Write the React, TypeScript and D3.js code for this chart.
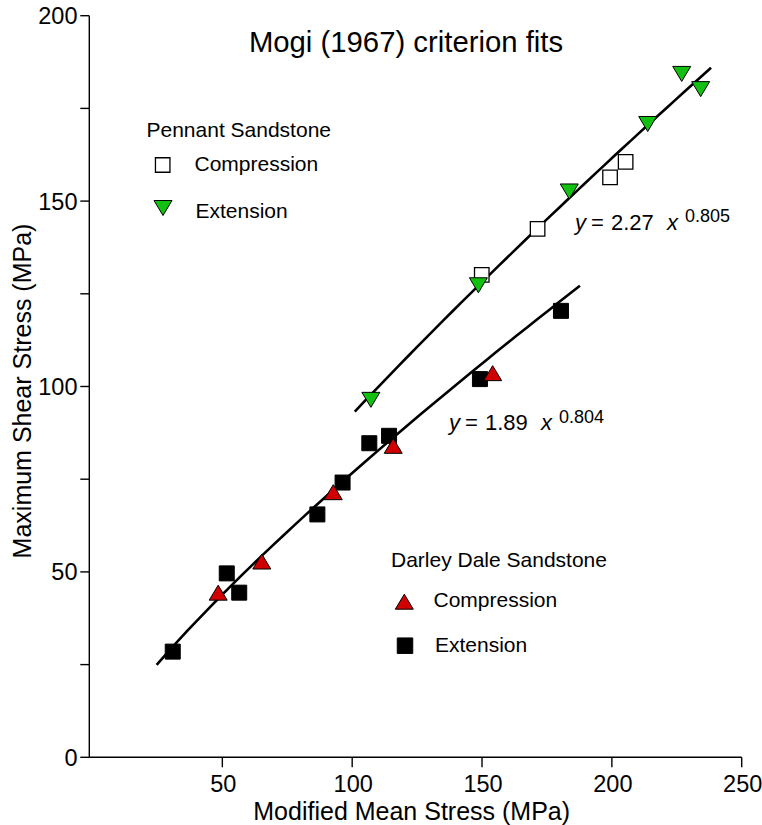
import React from "react";
import * as d3 from "d3";

// ---- Data ----
const pennantCompX = [149.9, 171.4, 199.3, 205.3];
const pennantCompY = [130.1, 142.5, 156.4, 160.6];
const pennantExtX = [107.2, 148.6, 183.6, 213.8, 226.9, 234.2];
const pennantExtY = [96.4, 127.3, 152.6, 170.8, 184.3, 180.2];
const darleyCompX = [48.4, 65.2, 92.7, 115.8, 154.1];
const darleyCompY = [44.4, 52.8, 71.5, 84.0, 103.6];
const darleyExtX = [30.9, 51.7, 56.5, 86.6, 96.3, 106.6, 114.2, 149.2, 180.4];
const darleyExtY = [28.5, 49.6, 44.4, 65.5, 74.1, 84.7, 86.7, 102.0, 120.4];

// power-law fits y = a * x^b drawn over [x0, x1]
const fitNames = ["Pennant", "Darley Dale"];
const fitA = [2.27, 1.89];
const fitB = [0.805, 0.804];
const fitX0 = [101, 24.7];
const fitX1 = [238.2, 187.7];
const fitLabelCoef = ["2.27", "1.89"];
const fitLabelExp = ["0.805", "0.804"];

const xTicks = [50, 100, 150, 200, 250];
const yTicks = [0, 50, 100, 150, 200];
const yMinorTicks = [25, 75, 125, 175];

const FONT = "'Liberation Sans', Arial, Helvetica, sans-serif";

export default function App() {
  const W = 762;
  const H = 825;
  const x = d3.scaleLinear().domain([0, 250]).range([92.5, 741.7]);
  const y = d3.scaleLinear().domain([0, 200]).range([757.3, 15.7]);
  const axisX = 89.3;
  const axisY = y(0);

  const sq = (cx: number, cy: number, s: number) =>
    `M${cx - s / 2},${cy - s / 2}h${s}v${s}h${-s}Z`;
  const triUp = (cx: number, cy: number, w = 18, h = 15) =>
    `M${cx},${cy - h / 2}L${cx + w / 2},${cy + h / 2}L${cx - w / 2},${cy + h / 2}Z`;
  const triDown = (cx: number, cy: number, w = 18, h = 15) =>
    `M${cx - w / 2},${cy - h / 2}L${cx + w / 2},${cy - h / 2}L${cx},${cy + h / 2}Z`;

  const line = d3
    .line<[number, number]>()
    .x((d) => x(d[0]))
    .y((d) => y(d[1]));

  const fitPaths = fitNames.map((_, i) => {
    const pts: [number, number][] = d3
      .range(0, 41)
      .map((k) => fitX0[i] + ((fitX1[i] - fitX0[i]) * k) / 40)
      .map((xv) => [xv, fitA[i] * Math.pow(xv, fitB[i])]);
    return line(pts) as string;
  });

  const green = "#12c012";
  const red = "#d00000";

  const eqPos = [
    { x: 575, y: 229.5 },
    { x: 449, y: 430 },
  ];

  return (
    <div style={{ position: "absolute", left: 0, top: 0 }}>
      <svg width={W} height={H} style={{ display: "block", background: "#fff" }} fontFamily={FONT}>
        <rect width={W} height={H} fill="#fff" />
        {/* axes */}
        <line x1={axisX} x2={x(250)} y1={axisY} y2={axisY} stroke="#000" strokeWidth={1.4} />
        <line x1={axisX} x2={axisX} y1={y(200)} y2={axisY} stroke="#000" strokeWidth={1.4} />
        {xTicks.map((t) => (
          <g key={"xt" + t}>
            <line x1={x(t)} x2={x(t)} y1={axisY} y2={axisY + 10} stroke="#000" strokeWidth={1.4} />
            <text x={x(t) + 1} y={791.5} fontSize={23.5} textAnchor="middle" fill="#000">
              {t}
            </text>
          </g>
        ))}
        {yTicks.map((t) => (
          <g key={"yt" + t}>
            <line x1={axisX - 9} x2={axisX} y1={y(t)} y2={y(t)} stroke="#000" strokeWidth={1.4} />
            <text x={77.5} y={y(t) + 8.5} fontSize={23.5} textAnchor="end" fill="#000">
              {t}
            </text>
          </g>
        ))}
        {yMinorTicks.map((t) => (
          <line key={"ym" + t} x1={axisX - 9} x2={axisX} y1={y(t)} y2={y(t)} stroke="#000" strokeWidth={1.4} />
        ))}
        <text x={411.7} y={820} fontSize={25} textAnchor="middle" fill="#000">
          Modified Mean Stress (MPa)
        </text>
        <text
          transform={`translate(31,391) rotate(-90)`}
          fontSize={25}
          textAnchor="middle"
          fill="#000"
        >
          Maximum Shear Stress (MPa)
        </text>
        <text x={406} y={51.5} fontSize={29.3} textAnchor="middle" fill="#000">
          Mogi (1967) criterion fits
        </text>

        {/* fit lines */}
        {fitPaths.map((d, i) => (
          <path key={"fit" + i} d={d} fill="none" stroke="#000" strokeWidth={2.6} />
        ))}

        {/* equations */}
        {eqPos.map((p, i) => (
          <text key={"eq" + i} y={p.y} fontSize={22} fill="#000">
            <tspan x={p.x} fontStyle="italic">y</tspan>
            <tspan x={p.x + 16}>=</tspan>
            <tspan x={p.x + 36}>{fitLabelCoef[i]}</tspan>
            <tspan x={p.x + 92} fontStyle="italic">x</tspan>
            <tspan x={p.x + 110} dy={-7.5} fontSize={18}>
              {fitLabelExp[i]}
            </tspan>
          </text>
        ))}

        {/* Darley Dale points */}
        {darleyExtX.map((xv, i) => (
          <path key={"de" + i} d={sq(x(xv), y(darleyExtY[i]), 15)} fill="#000" stroke="#000" strokeWidth={1} />
        ))}
        {darleyCompX.map((xv, i) => (
          <path key={"dc" + i} d={triUp(x(xv), y(darleyCompY[i]))} fill={red} stroke="#000" strokeWidth={1} />
        ))}

        {/* Pennant points */}
        {pennantCompX.map((xv, i) => (
          <path key={"pc" + i} d={sq(x(xv), y(pennantCompY[i]), 14.5)} fill="#fff" stroke="#000" strokeWidth={1.3} />
        ))}
        {pennantExtX.map((xv, i) => (
          <path key={"pe" + i} d={triDown(x(xv), y(pennantExtY[i]))} fill={green} stroke="#000" strokeWidth={1} />
        ))}

        {/* Pennant legend */}
        <text x={146.5} y={136.7} fontSize={21} fill="#000">
          Pennant Sandstone
        </text>
        <path d={sq(162.7, 165, 14.5)} fill="#fff" stroke="#000" strokeWidth={1.3} />
        <text x={194.5} y={170.7} fontSize={21} fill="#000">
          Compression
        </text>
        <path d={triDown(163, 208)} fill={green} stroke="#000" strokeWidth={1} />
        <text x={195.5} y={218.3} fontSize={21} fill="#000">
          Extension
        </text>

        {/* Darley Dale legend */}
        <text x={391} y={566.7} fontSize={21} fill="#000">
          Darley Dale Sandstone
        </text>
        <path d={triUp(404.3, 601.7)} fill={red} stroke="#000" strokeWidth={1} />
        <text x={433.5} y={607} fontSize={21} fill="#000">
          Compression
        </text>
        <path d={sq(405, 645.7, 15.5)} fill="#000" stroke="#000" strokeWidth={1} />
        <text x={435} y={651.7} fontSize={21} fill="#000">
          Extension
        </text>
      </svg>
    </div>
  );
}
